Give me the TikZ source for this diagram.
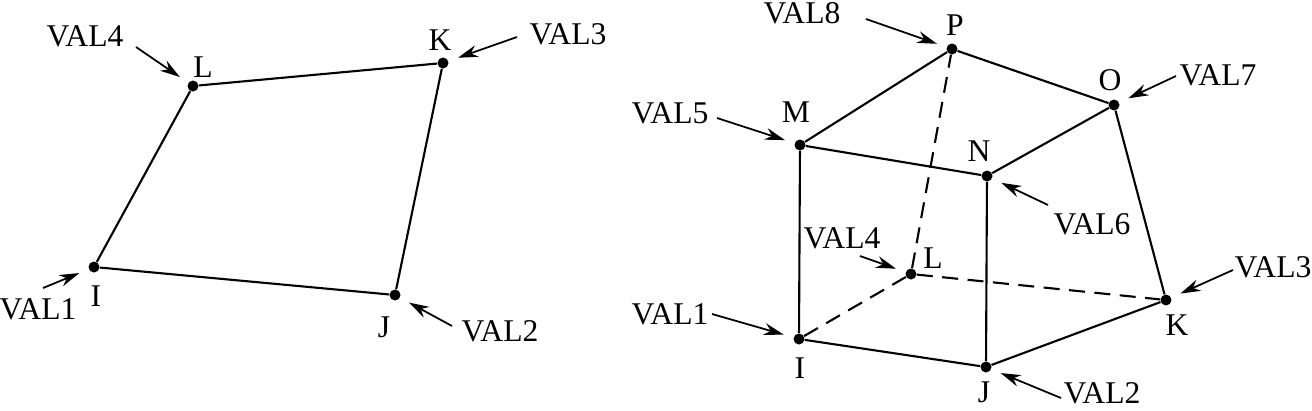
\documentclass[tikz,border=0pt]{standalone}
\usepackage{fontspec}
\setmainfont{Liberation Serif}
\usetikzlibrary{arrows.meta}
\tikzset{
vertex/.style = {circle, fill = black, inner sep = 0, minimum size = 0.22cm},
lab/.style = {inner sep = 0, font = \fontsize{18pt}{21pt}\selectfont},
edge/.style = {line width = 1.2pt},
hidden/.style = {line width = 1.2pt, dash pattern = on 0.32cm off 0.19cm},
pointer/.style = {line width = 1pt, -{Stealth[length = 0.4cm, width = 0.24cm]}, shorten > = 0.2cm}
}
\begin{document}
\begin{tikzpicture}[x = 0.02cm, y = -0.02cm]
\useasboundingbox (0,0) rectangle (1312,410);
% flat element
\foreach \name/\px/\py in {li/94/267, lj/395/295, lk/443/63, ll/193/86} {
\node[vertex] (\name) at (\px,\py) {};
}
\draw[edge] (li) -- (lj) -- (lk) -- (ll) -- (li);
\foreach \name/\txt/\px/\py in {tli/I/96/296, tlj/J/384/327, tlk/K/440/40, tll/L/203/67,
vli/VAL1/38/309, vlj/VAL2/500/331, vlk/VAL3/568/34, vll/VAL4/85/36} {
\node[lab] (\name) at (\px,\py) {\txt};
}
\foreach \name/\target/\px/\py in {ali/li/43/288, alj/lj/452/326, alk/lk/517/37, all/ll/136/47} {
\coordinate (\name) at (\px,\py);
\draw[pointer] (\name) -- (\target);
}
% brick element
\foreach \name/\px/\py in {ri/799/339, rj/986/367, rk/1166/300, rl/911/274, rm/800/145, rn/987/176, ro/1114/105, rp/952/49} {
\node[vertex] (\name) at (\px,\py) {};
}
\draw[edge] (ri) -- (rj) -- (rk) -- (ro) -- (rp) -- (rm) -- (ri);
\draw[edge] (rm) -- (rn) -- (rj);
\draw[edge] (rn) -- (ro);
\draw[hidden] (ri) -- (rl);
\draw[hidden] (rl) -- (rk);
\draw[hidden] (rl) -- (rp);
\foreach \name/\txt/\px/\py in {tri/I/800/368, trj/J/984/392, trk/K/1177/325, trl/L/933/258,
trm/M/796/112, trn/N/979/151, tro/O/1110/80, trp/P/955/25,
vri/VAL1/670/314, vrj/VAL2/1102/393, vrk/VAL3/1273/267, vrl/VAL4/842/238,
vrm/VAL5/670/113, vrn/VAL6/1092/224, vro/VAL7/1218/75, vrp/VAL8/802/13} {
\node[lab] (\name) at (\px,\py) {\txt};
}
\foreach \name/\target/\px/\py in {ari/ri/712/314, arj/rj/1061/398, ark/rk/1233/270, arl/rl/860/256,
arm/rm/717/118, arn/rn/1048/205, aro/ro/1176/76, arp/rp/866/19} {
\coordinate (\name) at (\px,\py);
\draw[pointer] (\name) -- (\target);
}
\end{tikzpicture}
\end{document}
